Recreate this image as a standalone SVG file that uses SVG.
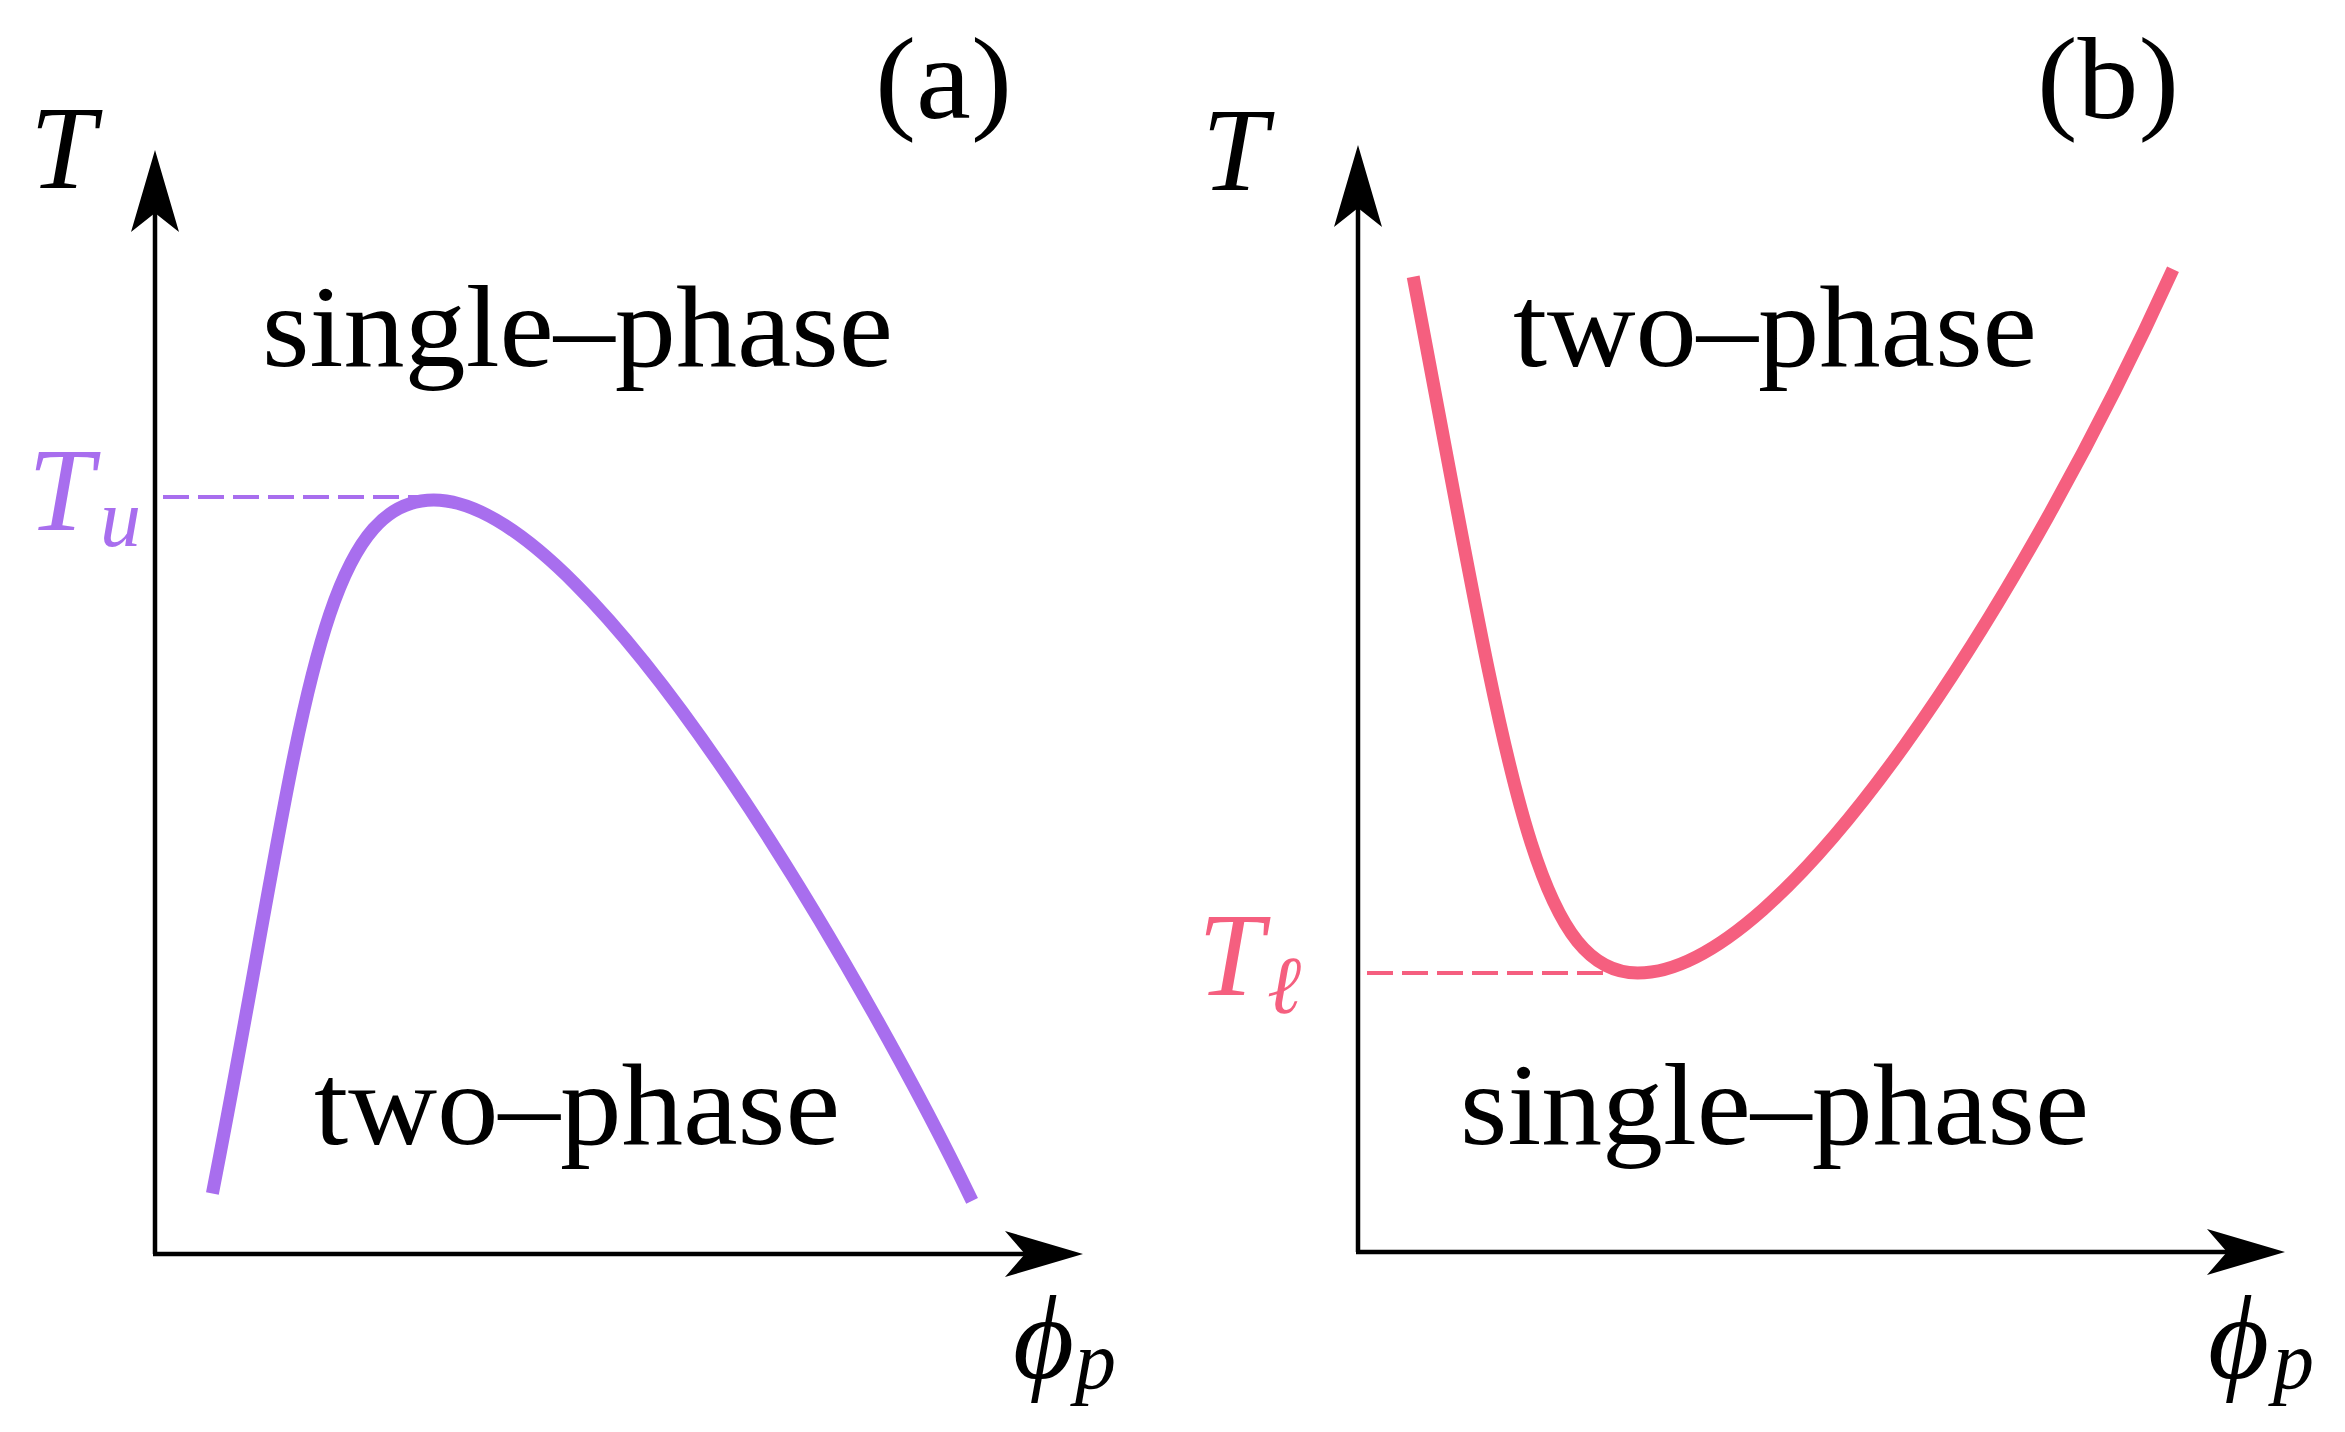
<svg xmlns="http://www.w3.org/2000/svg" width="2345" height="1432" viewBox="0 0 2345 1432">
<style>
.axis{stroke:#000;stroke-width:4.5;fill:none}
.head{fill:#000;stroke:none}
.lbl{font-family:"Liberation Serif","DejaVu Serif",serif;font-size:116px;fill:#000}
.math{font-family:"Liberation Serif","DejaVu Serif",serif;font-style:italic;font-size:118px;fill:#000}
.sub{font-family:"Liberation Serif","DejaVu Serif",serif;font-style:italic;font-size:82px}
.purple{fill:#A86EEE}
.pink{fill:#F55F7F}
.curveA{stroke:#A86EEE;stroke-width:13;fill:none}
.curveB{stroke:#F55F7F;stroke-width:13;fill:none}
.dashA{stroke:#A86EEE;stroke-width:4;stroke-dasharray:26 9;fill:none}
.dashB{stroke:#F55F7F;stroke-width:4;stroke-dasharray:26 9;fill:none}
</style>
<defs>
<path id="arrowUp" d="M0,0 L-24,82 L0,63 L24,82 Z"/>
<path id="arrowRight" d="M0,0 L-78,-23 L-58,0 L-78,23 Z"/>
</defs>
<rect width="2345" height="1432" fill="#fff"/>
<g id="connectors">
<path class="axis" d="M155,1254 L155,205"/>
<path class="axis" d="M153,1254 L1030,1254"/>
<use href="#arrowUp" class="head" x="155" y="150"/>
<use href="#arrowRight" class="head" x="1083" y="1254"/>
<path class="axis" d="M1358,1252 L1358,200"/>
<path class="axis" d="M1356,1252 L2232,1252"/>
<use href="#arrowUp" class="head" x="1358" y="145"/>
<use href="#arrowRight" class="head" x="2285" y="1252"/>
<path class="dashA" d="M163,497 L434,497"/>
<path class="dashB" d="M1367,973 L1638,973"/>
</g>
<g id="curve-a">
<path class="curveA" d="M212.4,1193.4 C300.6,744.8 314.1,500 433.7,500 C598.2,500 882.3,1014.7 972.1,1200.9"/>
</g>
<g id="curve-b">
<path class="curveB" d="M1413.2,276.7 C1507,770.2 1532.9,973 1637.6,973 C1787.1,973 2023.4,598.2 2173,269.2"/>
</g>
<g id="panel-a-labels">
<text class="lbl" x="875" y="118" textLength="137" lengthAdjust="spacingAndGlyphs">(a)</text>
<text class="math" x="30" y="188">T</text>
<text class="lbl" x="262" y="366" textLength="631" lengthAdjust="spacingAndGlyphs">single–phase</text>
<text class="lbl" x="314" y="1144" textLength="526" lengthAdjust="spacingAndGlyphs">two–phase</text>
<text class="math purple" x="28" y="530">T<tspan class="sub" x="100" y="546">u</tspan></text>
<text class="math" x="1013" y="1378">ϕ<tspan class="sub" x="1075" y="1388">p</tspan></text>
</g>
<g id="panel-b-labels">
<text class="lbl" x="2037" y="118" textLength="142" lengthAdjust="spacingAndGlyphs">(b)</text>
<text class="math" x="1202" y="190">T</text>
<text class="lbl" x="1513" y="366" textLength="524" lengthAdjust="spacingAndGlyphs">two–phase</text>
<text class="lbl" x="1460" y="1144" textLength="629" lengthAdjust="spacingAndGlyphs">single–phase</text>
<text class="math pink" x="1198" y="995">T<tspan class="sub" x="1267" y="1013">ℓ</tspan></text>
<text class="math" x="2208" y="1378">ϕ<tspan class="sub" x="2273" y="1388">p</tspan></text>
</g>
</svg>
